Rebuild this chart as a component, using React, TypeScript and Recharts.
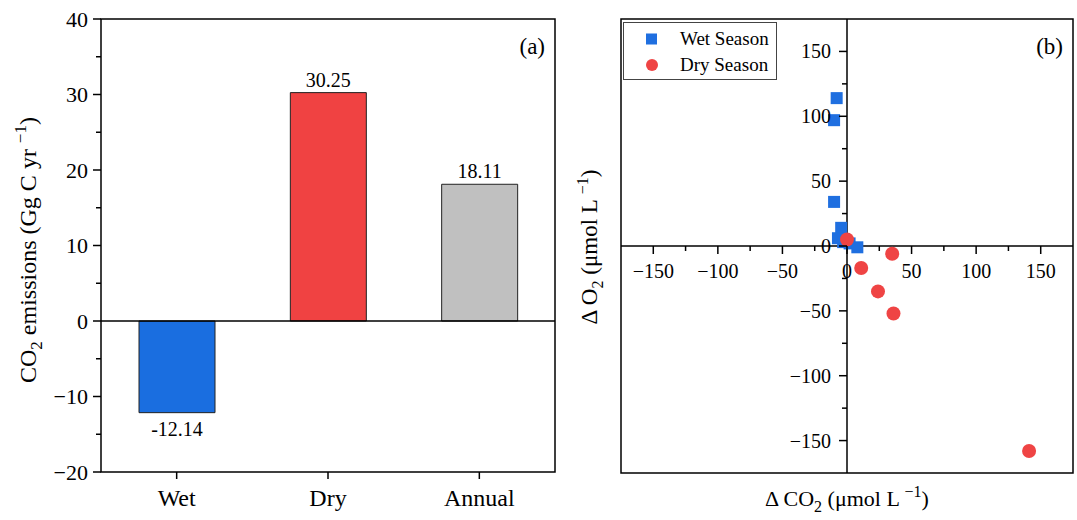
import React from 'react';
import {
  BarChart, Bar, XAxis, YAxis, Cell, LabelList, ReferenceLine, ReferenceArea,
  ScatterChart, Scatter, Legend,
} from 'recharts';

const FONT = '"Liberation Serif", "Times New Roman", Times, serif';

// ---------- Panel (a) data ----------
const categories = ['Wet', 'Dry', 'Annual'];
const emissions = [-12.14, 30.25, 18.11];
const barColors = ['#1a6ee0', '#f04242', '#c0c0c0'];
const barYTicks = [-20, -15, -10, -5, 0, 5, 10, 15, 20, 25, 30, 35, 40];

// ---------- Panel (b) data ----------
const seriesNames = ['Wet Season', 'Dry Season'];
const wetCO2 = [-8, -10, -10, -4.5, -7, -3, 2, 8];
const wetO2 = [114, 97, 34, 14, 6, 3, 2, -1];
const dryCO2 = [0, 11, 35, 24, 36, 141];
const dryO2 = [5, -17, -6, -35, -52, -158];
const scatterTicks = [-150, -125, -100, -75, -50, -25, 0, 25, 50, 75, 100, 125, 150];

const barData = categories.map((name, i) => ({ name, value: emissions[i] }));
const wetData = wetCO2.map((x, i) => ({ x, y: wetO2[i] }));
const dryData = dryCO2.map((x, i) => ({ x, y: dryO2[i] }));

const fmt = (v: number) => (v < 0 ? '\u2212' + Math.abs(v) : String(v));

// ---------- Panel (a) geometry ----------
const A_W = 570, A_H = 520;
const A_MARGIN = { top: 19, right: 15, bottom: 18, left: 41 };
const A_YW = 60, A_XH = 30;
const A_AXIS_X = A_MARGIN.left + A_YW; // 101
const A_BOTTOM = A_H - A_MARGIN.bottom - A_XH; // 472

const BarYTick = (props: any) => {
  const { y, payload } = props;
  const major = payload.value % 10 === 0;
  return (
    <g>
      <line x1={A_AXIS_X - (major ? 8 : 5)} x2={A_AXIS_X} y1={y} y2={y} stroke="#000" strokeWidth={1.5} />
      {major && (
        <text x={A_AXIS_X - 13} y={y} dy={7.5} textAnchor="end" fontSize={22} fontFamily={FONT} fill="#000">
          {fmt(payload.value)}
        </text>
      )}
    </g>
  );
};

const BarXTick = (props: any) => {
  const { x, payload } = props;
  return (
    <g>
      <line x1={x} x2={x} y1={A_BOTTOM} y2={A_BOTTOM + 7} stroke="#000" strokeWidth={1.5} />
      <text x={x} y={A_BOTTOM + 34} textAnchor="middle" fontSize={24} fontFamily={FONT} fill="#000">
        {payload.value}
      </text>
    </g>
  );
};

const BarValueLabel = (props: any) => {
  const { x, y, width, height, value } = props;
  const top = Math.min(y, y + height);
  const bottom = Math.max(y, y + height);
  const ty = value < 0 ? bottom + 23 : top - 6;
  const txt = value < 0 ? '-' + Math.abs(value).toFixed(2) : Number(value).toFixed(2);
  return (
    <text x={x + width / 2} y={ty} textAnchor="middle" fontSize={20} fontFamily={FONT} fill="#000">
      {txt}
    </text>
  );
};

const ATitle = () => {
  const cx = 36;
  const cy = 250;
  return (
    <text transform={`translate(${cx},${cy}) rotate(-90)`} textAnchor="middle" fontSize={24} fontFamily={FONT} fill="#000">
      CO<tspan dy={6} fontSize={17}>2</tspan>
      <tspan dy={-6}> emissions (Gg C yr </tspan>
      <tspan dy={-10} fontSize={17}>{'\u2212'}1</tspan>
      <tspan dy={10}>)</tspan>
    </text>
  );
};

const PanelLabel = (text: string) => (props: any) => {
  const vb = props.viewBox || {};
  return (
    <text x={vb.x + vb.width - 10} y={vb.y + 35} textAnchor="end" fontSize={23} fontFamily={FONT} fill="#000">
      {text}
    </text>
  );
};

// ---------- Panel (b) geometry ----------
const B_LEFT = 560;
const B_W = 517, B_H = 520;
const B_MARGIN = { top: 19, right: 4, bottom: 17, left: 0 };
const B_YW = 61, B_XH = 30;
const B_PLOT_W = B_W - B_MARGIN.left - B_MARGIN.right - B_YW; // 452
const B_PLOT_H = B_H - B_MARGIN.top - B_MARGIN.bottom - B_XH; // 454
const B_ZERO_X = B_MARGIN.left + B_YW + B_PLOT_W / 2;
const B_ZERO_Y = B_MARGIN.top + B_PLOT_H / 2;

const ScatterXTick = (props: any) => {
  const { x, payload } = props;
  const major = payload.value % 50 === 0;
  return (
    <g>
      <line x1={x} x2={x} y1={B_ZERO_Y} y2={B_ZERO_Y + (major ? 8 : 5)} stroke="#000" strokeWidth={1.5} />
      {major && (
        <text x={x} y={B_ZERO_Y + 32} textAnchor="middle" fontSize={20} fontFamily={FONT} fill="#000">
          {fmt(payload.value)}
        </text>
      )}
    </g>
  );
};

const ScatterYTick = (props: any) => {
  const { y, payload } = props;
  const major = payload.value % 50 === 0;
  return (
    <g>
      <line x1={B_ZERO_X - (major ? 8 : 5)} x2={B_ZERO_X} y1={y} y2={y} stroke="#000" strokeWidth={1.5} />
      {major && (
        <text x={B_ZERO_X - 16} y={y} dy={7} textAnchor="end" fontSize={20} fontFamily={FONT} fill="#000">
          {fmt(payload.value)}
        </text>
      )}
    </g>
  );
};

const BXTitle = (props: any) => {
  const vb = props.viewBox || {};
  return (
    <text x={vb.x + vb.width / 2} y={506} textAnchor="middle" fontSize={22} fontFamily={FONT} fill="#000">
      {'\u0394'} CO<tspan dy={6} fontSize={16}>2</tspan>
      <tspan dy={-6}> ({'\u03bc'}mol L </tspan>
      <tspan dy={-9} fontSize={16}>{'\u2212'}1</tspan>
      <tspan dy={9}>)</tspan>
    </text>
  );
};

const BYTitle = () => {
  const cx = 37;
  const cy = 247;
  return (
    <text transform={`translate(${cx},${cy}) rotate(-90)`} textAnchor="middle" fontSize={23} fontFamily={FONT} fill="#000">
      {'\u0394'} O<tspan dy={6} fontSize={16}>2</tspan>
      <tspan dy={-6}> ({'\u03bc'}mol L </tspan>
      <tspan dy={-9} fontSize={16}>{'\u2212'}1</tspan>
      <tspan dy={9}>)</tspan>
    </text>
  );
};

const SquareShape = (p: any) => (
  <rect x={p.cx - 6} y={p.cy - 6} width={12} height={12} fill="#1f6fe0" />
);
const CircleShape = (p: any) => <circle cx={p.cx} cy={p.cy} r={7} fill="#ef4444" />;

const LegendBox = (props: any) => {
  const payload = [...(props.payload || [])].sort(
    (a: any, b: any) => seriesNames.indexOf(a.value) - seriesNames.indexOf(b.value),
  );
  return (
    <div
      style={{
        border: '1.5px solid #444',
        background: '#fff',
        width: 154,
        height: 58,
        boxSizing: 'border-box',
        fontFamily: FONT,
        fontSize: 19,
        paddingTop: 3,
      }}
    >
      {payload.map((e: any, i: number) => (
        <div key={i} style={{ display: 'flex', alignItems: 'center', height: 26 }}>
          <svg width={56} height={16} style={{ flex: 'none' }}>
            {e.type === 'square' ? (
              <rect x={22} y={2.5} width={11} height={11} fill={e.color} />
            ) : (
              <circle cx={28} cy={8} r={6} fill={e.color} />
            )}
          </svg>
          <span style={{ color: '#000', lineHeight: '26px' }}>{e.value}</span>
        </div>
      ))}
    </div>
  );
};

export default function App() {
  return (
    <div style={{ position: 'absolute', left: 0, top: 0, width: 1077, height: 520, background: '#fff' }}>
      <div style={{ position: 'absolute', left: 0, top: 0 }}>
        <BarChart width={A_W} height={A_H} data={barData} margin={A_MARGIN}>
          <XAxis
            dataKey="name"
            type="category"
            height={A_XH}
            axisLine={false}
            tickLine={false}
            tick={<BarXTick />}
            interval={0}
          />
          <YAxis
            type="number"
            domain={[-20, 40]}
            ticks={barYTicks}
            width={A_YW}
            axisLine={false}
            tickLine={false}
            tick={<BarYTick />}
            interval={0}
            label={<ATitle />}
          />
          <ReferenceArea
            y1={-20}
            y2={40}
            fill="none"
            fillOpacity={0}
            stroke="#000"
            strokeWidth={1.5}
            label={PanelLabel('(a)')}
          />
          <ReferenceLine y={0} stroke="#000" strokeWidth={1.5} />
          <Bar dataKey="value" barSize={76} stroke="#222" strokeWidth={1} isAnimationActive={false}>
            {barData.map((d, i) => (
              <Cell key={d.name} fill={barColors[i]} />
            ))}
            <LabelList dataKey="value" content={<BarValueLabel />} />
          </Bar>
        </BarChart>
      </div>
      <div style={{ position: 'absolute', left: B_LEFT, top: 0 }}>
        <ScatterChart width={B_W} height={B_H} margin={B_MARGIN}>
          <XAxis
            type="number"
            dataKey="x"
            domain={[-175, 175]}
            ticks={scatterTicks}
            height={B_XH}
            axisLine={false}
            tickLine={false}
            tick={<ScatterXTick />}
            interval={0}
            allowDataOverflow
            label={<BXTitle />}
          />
          <YAxis
            type="number"
            dataKey="y"
            domain={[-175, 175]}
            ticks={scatterTicks}
            width={B_YW}
            axisLine={false}
            tickLine={false}
            tick={<ScatterYTick />}
            interval={0}
            allowDataOverflow
            label={<BYTitle />}
          />
          <ReferenceArea
            y1={-175}
            y2={175}
            fill="none"
            fillOpacity={0}
            stroke="#000"
            strokeWidth={1.5}
            label={PanelLabel('(b)')}
          />
          <ReferenceLine x={0} stroke="#000" strokeWidth={1.5} />
          <ReferenceLine y={0} stroke="#000" strokeWidth={1.5} />
          <Legend
            layout="vertical"
            align="center"
            verticalAlign="middle"
            content={<LegendBox />}
            wrapperStyle={{ left: 63, top: 22, width: 'auto', height: 'auto' }}
          />
          <Scatter
            name="Wet Season"
            data={wetData}
            fill="#1f6fe0"
            legendType="square"
            shape={SquareShape}
            isAnimationActive={false}
          />
          <Scatter
            name="Dry Season"
            data={dryData}
            fill="#ef4444"
            legendType="circle"
            shape={CircleShape}
            isAnimationActive={false}
          />
        </ScatterChart>
      </div>
    </div>
  );
}
